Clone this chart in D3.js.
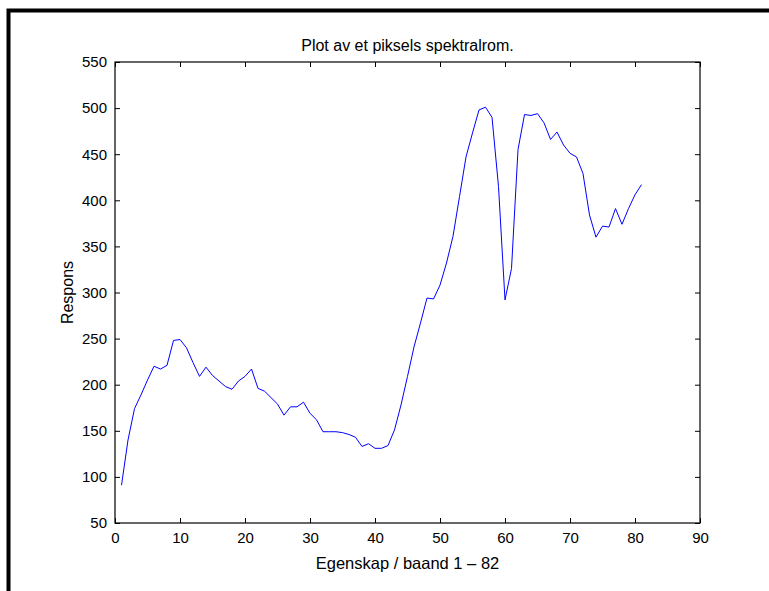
<!DOCTYPE html>
<html>
<head>
<meta charset="utf-8">
<script src="https://cdn.jsdelivr.net/npm/d3@7"></script>
<style>
  html, body { margin: 0; padding: 0; background: #fff; }
  svg { display: block; }
  text { font-family: "Liberation Sans", Arial, Helvetica, sans-serif; fill: #000; }
</style>
</head>
<body>
<svg id="chart" width="769" height="591"></svg>
<script>
const title = "Plot av et piksels spektralrom.";
const xLabel = "Egenskap / baand 1 \u2013 82";
const yLabel = "Respons";
const bands = d3.range(1, 82);
const respons = [
  91, 140, 174, 189, 205, 220, 217, 221, 248, 249,
  240, 224, 209, 219, 210, 204, 198, 195, 204, 209,
  217, 196, 193, 186, 179, 167, 176, 176, 181, 169,
  162, 149, 149, 149, 148, 146, 143, 133, 136, 131,
  131, 134, 151, 178, 209, 241, 267, 294, 293, 308,
  332, 361, 404, 447, 473, 498, 501, 490, 415, 292,
  326, 455, 493, 492, 494, 484, 466, 474, 460, 451,
  447, 429, 384, 360, 372, 371, 391, 374, 391, 406,
  417
];
const xTicks = [0, 10, 20, 30, 40, 50, 60, 70, 80, 90];
const yTicks = [50, 100, 150, 200, 250, 300, 350, 400, 450, 500, 550];

const svg = d3.select("#chart");
const L = 115, R = 700, T = 62, B = 523;
const x = d3.scaleLinear().domain([0, 90]).range([L, R]);
const y = d3.scaleLinear().domain([50, 550]).range([B, T]);

// outer frame (left and top)
svg.append("path")
  .attr("d", `M8.5,591 L8.5,10.5 L769,10.5`)
  .attr("fill", "none").attr("stroke", "#000").attr("stroke-width", 4);

// title
svg.append("text").attr("x", (L + R) / 2).attr("y", 51)
  .attr("text-anchor", "middle").style("font-size", "16px").text(title);

// axes with inward ticks
const tickLen = 5;
const gx = svg.append("g").attr("transform", `translate(0,${B})`)
  .call(d3.axisBottom(x).tickValues(xTicks).tickSizeInner(-tickLen).tickSizeOuter(0).tickPadding(9));
const gxTop = svg.append("g").attr("transform", `translate(0,${T})`)
  .call(d3.axisTop(x).tickValues(xTicks).tickSizeInner(-tickLen).tickSizeOuter(0).tickFormat(""));
const gy = svg.append("g").attr("transform", `translate(${L},0)`)
  .call(d3.axisLeft(y).tickValues(yTicks).tickSizeInner(-tickLen).tickSizeOuter(0).tickPadding(8));
const gyR = svg.append("g").attr("transform", `translate(${R},0)`)
  .call(d3.axisRight(y).tickValues(yTicks).tickSizeInner(-tickLen).tickSizeOuter(0).tickFormat(""));

[gx, gxTop, gy, gyR].forEach(g => {
  g.select(".domain").remove();
  g.selectAll(".tick line").attr("stroke", "#000").attr("stroke-width", 1);
  g.selectAll(".tick text").style("font-size", "15px").style("font-family", '"Liberation Sans", Arial, sans-serif').attr("fill", "#000");
});

// axes box
svg.append("rect").attr("x", L).attr("y", T).attr("width", R - L).attr("height", B - T)
  .attr("fill", "none").attr("stroke", "#000").attr("stroke-width", 1.2);

// line
const line = d3.line().x((d, i) => x(bands[i])).y(d => y(d));
svg.append("path").datum(respons)
  .attr("d", line).attr("fill", "none").attr("stroke", "#0000ff").attr("stroke-width", 1);

// axis labels
svg.append("text").attr("x", (L + R) / 2).attr("y", 569)
  .attr("text-anchor", "middle").style("font-size", "16.5px").text(xLabel);
svg.append("text").attr("transform", `translate(73,${(T + B) / 2}) rotate(-90)`)
  .attr("text-anchor", "middle").style("font-size", "16px").text(yLabel);
</script>
</body>
</html>
